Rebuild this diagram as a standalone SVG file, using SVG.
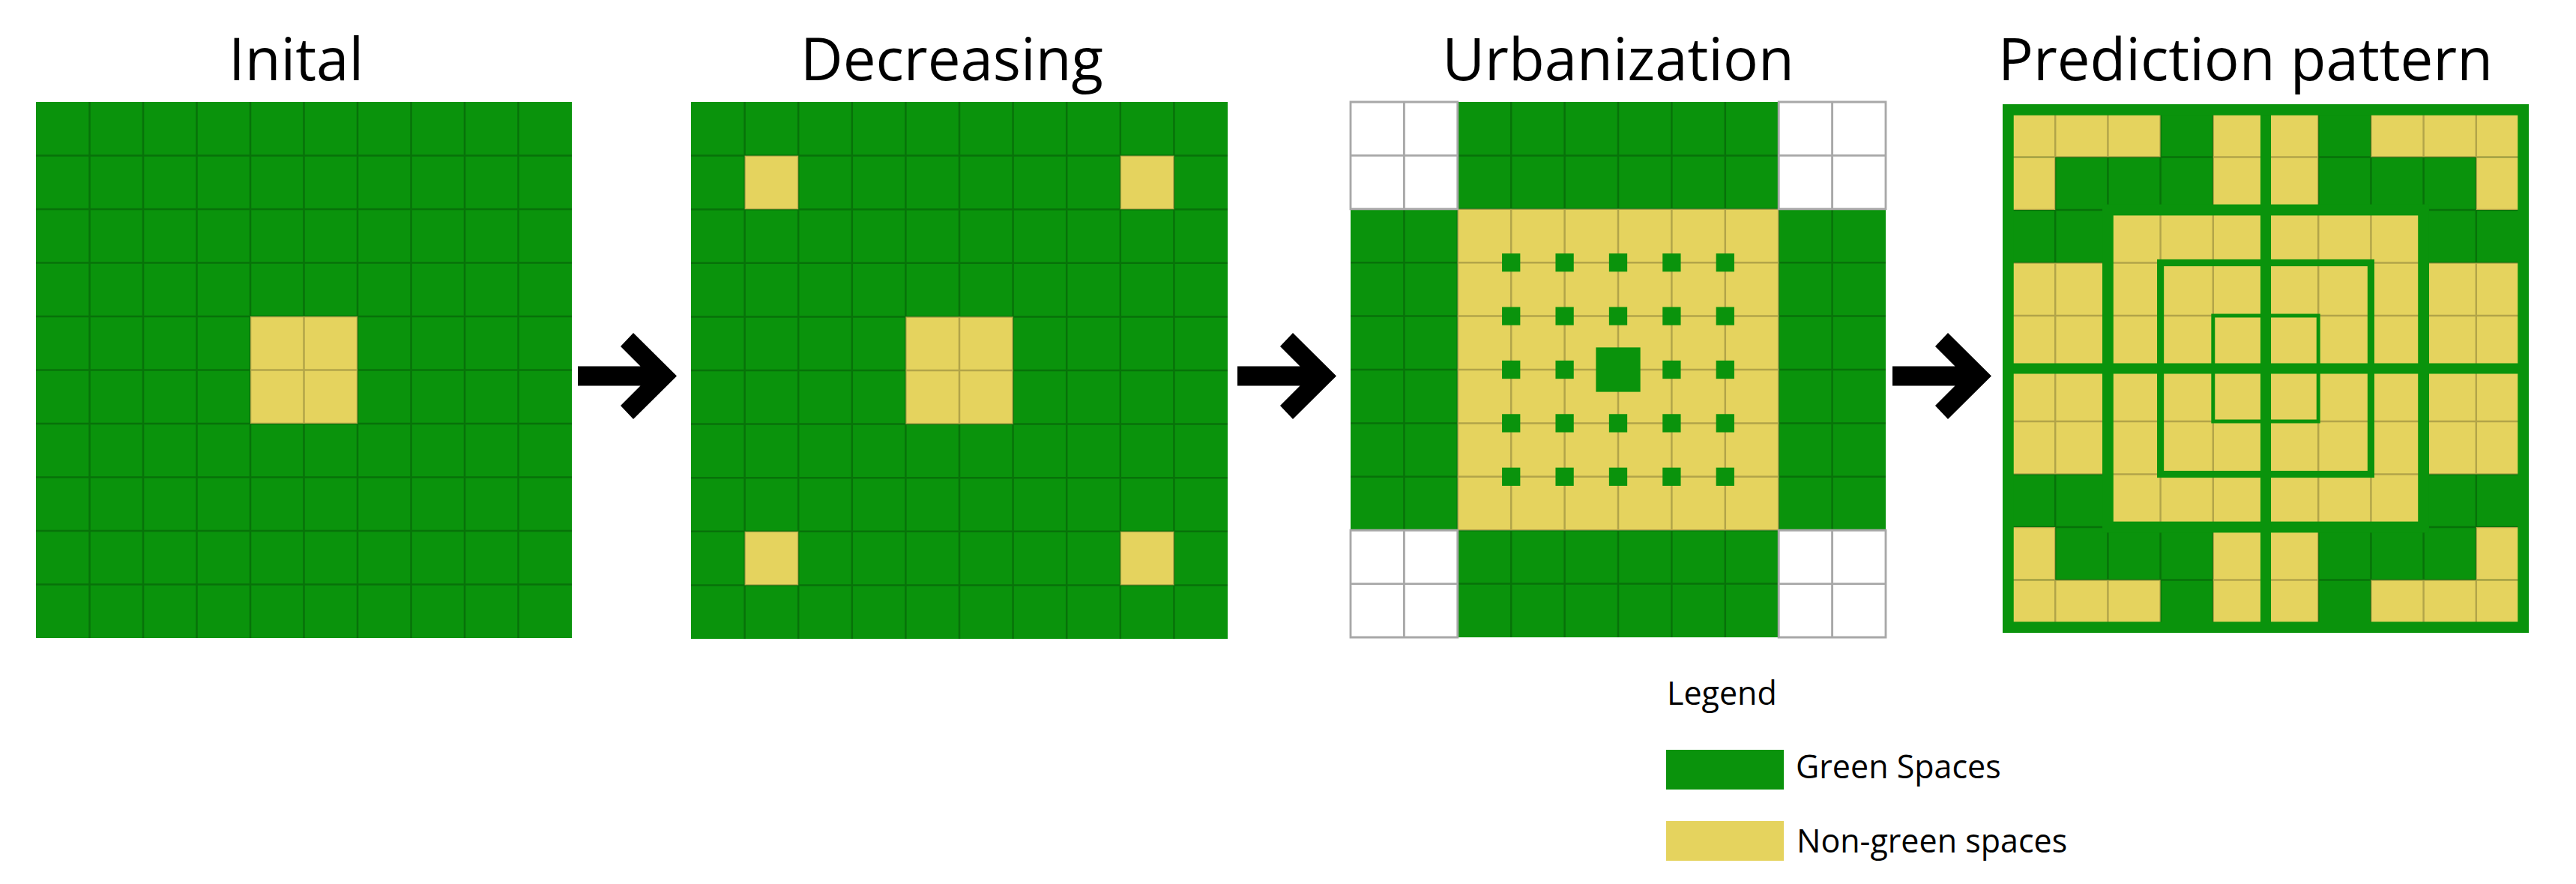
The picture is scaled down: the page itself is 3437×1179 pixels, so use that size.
<svg xmlns="http://www.w3.org/2000/svg" xmlns:xlink="http://www.w3.org/1999/xlink" width="3437" height="1179" viewBox="0 0 3437 1179">
<style>
.g{fill:#0a930c}
.y{fill:#e5d35e}
.w{fill:#ffffff}
.thin{fill:none;stroke:#000;stroke-opacity:.22;stroke-width:3.5}
.wl{fill:none;stroke:#a8a8a8;stroke-width:4}
.thick{fill:none;stroke:#0a930c}
.arrow{fill:#000}
.title{font-family:"Open Sans","Noto Sans","DejaVu Sans",sans-serif;font-size:78px;text-anchor:middle;fill:#000}
.leg{font-family:"Open Sans","Noto Sans","DejaVu Sans",sans-serif;font-size:43px;fill:#000}
</style>
<defs>
<path id="grid" class="thin" d="M100 0V1000M200 0V1000M300 0V1000M400 0V1000M500 0V1000M600 0V1000M700 0V1000M800 0V1000M900 0V1000M0 100H1000M0 200H1000M0 300H1000M0 400H1000M0 500H1000M0 600H1000M0 700H1000M0 800H1000M0 900H1000"/>
<path id="wcorner" class="wl" d="M0 0H200V200H0ZM100 0V200M0 100H200"/>
<rect id="dot" class="g" x="-17" y="-17" width="34" height="34"/>
<polygon id="arr" class="arrow" points="771,488.5 854.5,488.5 828,462 845,444 903,501.5 845,559 828,541 854.5,514.5 771,514.5"/>
</defs>
<rect width="3437" height="1179" fill="#fff"/>

<g id="title-initial"><text class="title" x="395" y="107">Inital</text></g>
<g id="title-decreasing"><text class="title" x="1270" y="107">Decreasing</text></g>
<g id="title-urbanization"><text class="title" x="2159" y="107">Urbanization</text></g>
<g id="title-prediction"><text class="title" x="2996" y="107">Prediction pattern</text></g>

<g id="panel-initial" transform="translate(48,136) scale(0.715)">
<rect class="g" width="1000" height="1000"/>
<rect class="y" x="400" y="400" width="200" height="200"/>
<use xlink:href="#grid" href="#grid"/>
</g>

<g id="panel-decreasing" transform="translate(922,136) scale(0.716)">
<rect class="g" width="1000" height="1000"/>
<rect class="y" x="100" y="100" width="100" height="100"/>
<rect class="y" x="800" y="100" width="100" height="100"/>
<rect class="y" x="100" y="800" width="100" height="100"/>
<rect class="y" x="800" y="800" width="100" height="100"/>
<rect class="y" x="400" y="400" width="200" height="200"/>
<use xlink:href="#grid" href="#grid"/>
</g>

<g id="panel-urbanization" transform="translate(1802,136) scale(0.714)">
<rect class="g" x="200" y="0" width="600" height="200"/>
<rect class="g" x="0" y="200" width="200" height="600"/>
<rect class="g" x="800" y="200" width="200" height="600"/>
<rect class="g" x="200" y="800" width="600" height="200"/>
<rect class="y" x="200" y="200" width="600" height="600"/>
<path class="thin" d="M300 0V1000M400 0V1000M500 0V1000M600 0V1000M700 0V1000M0 300H1000M0 400H1000M0 500H1000M0 600H1000M0 700H1000M200 0V1000M800 0V1000M0 200H1000M0 800H1000M100 200V800M900 200V800M200 100H800M200 900H800"/>
<rect class="w" x="0" y="0" width="200" height="200"/>
<rect class="w" x="800" y="0" width="200" height="200"/>
<rect class="w" x="0" y="800" width="200" height="200"/>
<rect class="w" x="800" y="800" width="200" height="200"/>
<use xlink:href="#wcorner" href="#wcorner"/>
<use xlink:href="#wcorner" href="#wcorner" x="800"/>
<use xlink:href="#wcorner" href="#wcorner" y="800"/>
<use xlink:href="#wcorner" href="#wcorner" x="800" y="800"/>
<use href="#dot" x="300" y="300"/><use href="#dot" x="400" y="300"/><use href="#dot" x="500" y="300"/><use href="#dot" x="600" y="300"/><use href="#dot" x="700" y="300"/>
<use href="#dot" x="300" y="400"/><use href="#dot" x="400" y="400"/><use href="#dot" x="500" y="400"/><use href="#dot" x="600" y="400"/><use href="#dot" x="700" y="400"/>
<use href="#dot" x="300" y="500"/><use href="#dot" x="400" y="500"/><use href="#dot" x="600" y="500"/><use href="#dot" x="700" y="500"/>
<use href="#dot" x="300" y="600"/><use href="#dot" x="400" y="600"/><use href="#dot" x="500" y="600"/><use href="#dot" x="600" y="600"/><use href="#dot" x="700" y="600"/>
<use href="#dot" x="300" y="700"/><use href="#dot" x="400" y="700"/><use href="#dot" x="500" y="700"/><use href="#dot" x="600" y="700"/><use href="#dot" x="700" y="700"/>
<rect class="g" x="458.5" y="458.5" width="83" height="83"/>
</g>

<g id="panel-prediction" transform="translate(2672,139) scale(0.702,0.705)">
<rect class="g" width="1000" height="1000"/>
<rect class="y" x="0" y="0" width="300" height="100"/>
<rect class="y" x="0" y="100" width="100" height="100"/>
<rect class="y" x="400" y="0" width="200" height="200"/>
<rect class="y" x="700" y="0" width="300" height="100"/>
<rect class="y" x="900" y="100" width="100" height="100"/>
<rect class="y" x="200" y="200" width="600" height="600"/>
<rect class="y" x="0" y="300" width="1000" height="400"/>
<rect class="y" x="0" y="900" width="300" height="100"/>
<rect class="y" x="0" y="800" width="100" height="100"/>
<rect class="y" x="400" y="800" width="200" height="200"/>
<rect class="y" x="700" y="900" width="300" height="100"/>
<rect class="y" x="900" y="800" width="100" height="100"/>
<use xlink:href="#grid" href="#grid"/>
<rect class="thick" x="200" y="200" width="600" height="600" stroke-width="21"/>
<rect class="thick" x="300" y="300" width="400" height="400" stroke-width="13"/>
<rect class="thick" x="400" y="400" width="200" height="200" stroke-width="7"/>
<path class="thick" stroke-width="20" d="M500 0V1000M0 500H1000"/>
<rect class="thick" x="10.5" y="10.5" width="979" height="979" stroke-width="21"/>
</g>

<g id="connectors">
<use xlink:href="#arr" href="#arr"/>
<use xlink:href="#arr" href="#arr" x="880"/>
<use xlink:href="#arr" href="#arr" x="1754"/>
</g>

<g id="legend">
<text class="leg" x="2224" y="940">Legend</text>
<rect class="g" x="2223" y="1000" width="157" height="53"/>
<text class="leg" x="2396" y="1038">Green Spaces</text>
<rect class="y" x="2223" y="1095" width="157" height="53"/>
<text class="leg" x="2397" y="1137">Non-green spaces</text>
</g>
</svg>
